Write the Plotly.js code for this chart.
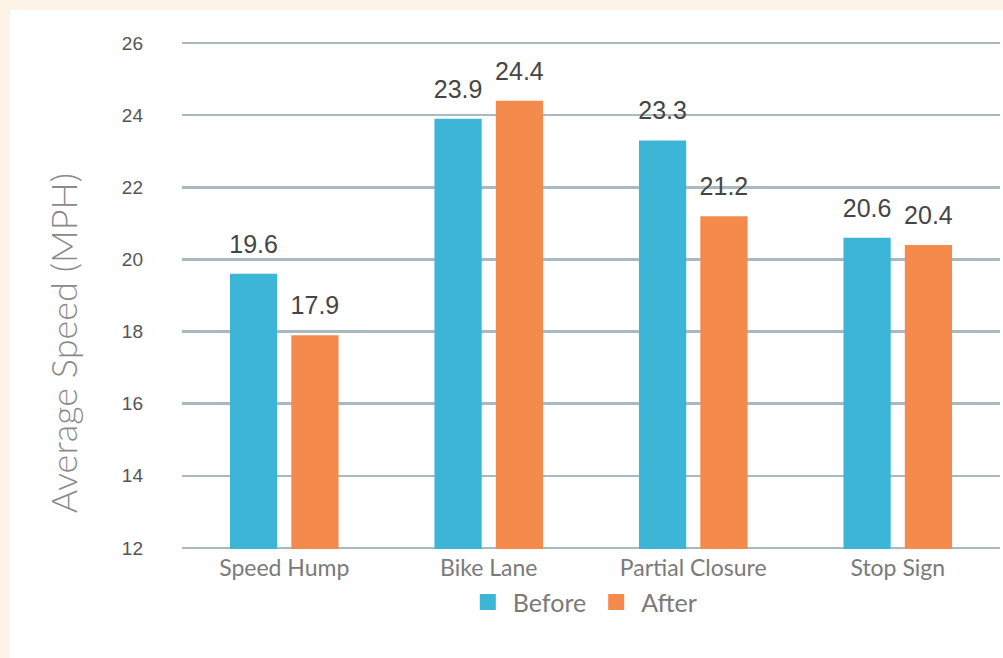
<!DOCTYPE html>
<html>
<head>
<meta charset="utf-8">
<script src="https://cdn.plot.ly/plotly-3.0.1.min.js"></script>
<style>
  html, body { margin: 0; padding: 0; background: #FDF3E6; width: 1003px; height: 658px; overflow: hidden; }
  #chart { position: absolute; left: 10px; top: 10px; width: 993px; height: 648px; background: #ffffff; }
</style>
</head>
<body>
<div id="chart"></div>
<script>
const categories = ["Speed Hump", "Bike Lane", "Partial Closure", "Stop Sign"];
const beforeValues = [19.6, 23.9, 23.3, 20.6];
const afterValues = [17.9, 24.4, 21.2, 20.4];
const seriesNames = ["Before", "After"];
const yTicks = [12, 14, 16, 18, 20, 22, 24, 26];
const yTitle = "Average Speed (MPH)";

const colors = ["#3DB5D6", "#F48B4D"];
const labelFont = { family: "Liberation Sans, Arial, sans-serif", size: 25, color: "#454545" };

function barTrace(name, vals, color, group) {
  return {
    type: "bar",
    name: name,
    x: categories,
    y: vals,
    offsetgroup: group,
    marker: { color: color },
    showlegend: false,
    hoverinfo: "x+y+name"
  };
}
function labelTrace(name, vals, group) {
  return {
    type: "scatter",
    mode: "markers+text",
    name: name,
    x: categories,
    y: vals,
    offsetgroup: group,
    text: vals.map(v => v.toFixed(1)),
    textposition: "top center",
    textfont: labelFont,
    marker: { size: 22, opacity: 0, color: "#ffffff" },
    cliponaxis: false,
    showlegend: false,
    hoverinfo: "skip"
  };
}
function legendProxy(name, color) {
  return {
    type: "scatter",
    mode: "markers",
    name: name,
    x: [null],
    y: [null],
    marker: { symbol: "square", size: 16, color: color },
    showlegend: true,
    hoverinfo: "skip"
  };
}

const data = [
  barTrace(seriesNames[0], beforeValues, colors[0], "b"),
  barTrace(seriesNames[1], afterValues, colors[1], "a"),
  labelTrace(seriesNames[0], beforeValues, "b"),
  labelTrace(seriesNames[1], afterValues, "a"),
  legendProxy(seriesNames[0], colors[0]),
  legendProxy(seriesNames[1], colors[1])
];

const layout = {
  width: 993,
  height: 648,
  paper_bgcolor: "#ffffff",
  plot_bgcolor: "#ffffff",
  margin: { l: 172, r: 3, t: 32, b: 109 },
  barmode: "group",
  bargap: 0.4,
  bargroupgap: 0.23,
  scattermode: "group",
  scattergap: 0.4,
  font: { family: "Lato, sans-serif", color: "#777777" },
  xaxis: {
    type: "category",
    categoryorder: "array",
    categoryarray: categories,
    showgrid: false,
    showline: false,
    zeroline: false,
    ticks: "",
    ticklabelstandoff: 3,
    tickfont: { family: "Lato, sans-serif", size: 23, color: "#7a7a7a" },
    fixedrange: true
  },
  yaxis: {
    range: [11.97, 26.03],
    tickvals: yTicks,
    ticktext: yTicks.map(String),
    showgrid: true,
    gridcolor: "#A9B9C2",
    gridwidth: 2.5,
    zeroline: false,
    showline: false,
    ticks: "",
    ticklabelstandoff: 38,
    tickfont: { family: "Liberation Sans, Arial, sans-serif", size: 19, color: "#555555" },
    fixedrange: true
  },
  legend: {
    orientation: "h",
    x: 0.49,
    xanchor: "center",
    y: -0.105,
    yanchor: "middle",
    font: { family: "Lato, sans-serif", size: 25, color: "#7a7a7a" },
    itemwidth: 40,
    bgcolor: "rgba(0,0,0,0)"
  },
  annotations: [{
    text: yTitle,
    xref: "paper",
    yref: "paper",
    x: -0.146,
    y: 0.405,
    xanchor: "center",
    yanchor: "middle",
    textangle: -90,
    showarrow: false,
    font: { family: "Lato, sans-serif", size: 36, weight: 300, color: "#8a8a8a" }
  }]
};

Plotly.newPlot("chart", data, layout, { displayModeBar: false, staticPlot: true });
</script>
</body>
</html>
